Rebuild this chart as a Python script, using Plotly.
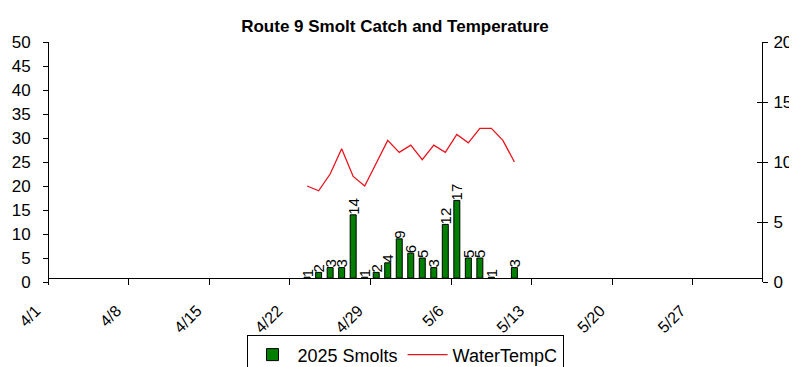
import plotly.graph_objects as go
import pandas as pd

# ---- data ----
dates = ["4/23", "4/24", "4/25", "4/26", "4/27", "4/28", "4/29", "4/30", "5/1", "5/2",
         "5/3", "5/4", "5/5", "5/6", "5/7", "5/8", "5/9", "5/10", "5/11"]
smolts = [1, 2, 3, 3, 14, 1, 2, 4, 9, 6, 5, 3, 12, 17, 5, 5, 1, None, 3]
water_temp = [8.0, 7.6, 9.0, 11.1, 8.8, 8.0, 9.9, 11.8, 10.8, 11.4,
              10.2, 11.4, 10.8, 12.3, 11.6, 12.8, 12.8, 11.8, 10.0]
tick_labels = ["4/1", "4/8", "4/15", "4/22", "4/29", "5/6", "5/13", "5/20", "5/27"]
year = 2025

# value at which the category axis crosses the primary value axis (bars grow from here)
AXIS_CROSS = 0.8

def to_dt(s):
    m, d = s.split("/")
    return pd.Timestamp(year=year, month=int(m), day=int(d))

# bars/points centred between tick marks (middle of each day)
x_mid = [to_dt(s) + pd.Timedelta(hours=12) for s in dates]
tick_vals = [to_dt(s) for s in tick_labels]
x_range = [to_dt("4/1"), to_dt("6/2")]

bar_len = [None if v is None else v - AXIS_CROSS for v in smolts]
bar_text = ["" if v is None else str(v) for v in smolts]

FONT = "Liberation Sans, Arial, sans-serif"

fig = go.Figure()
fig.add_trace(go.Bar(
    x=x_mid, y=bar_len, base=AXIS_CROSS, name="2025 Smolts",
    marker=dict(color="#007f00", line=dict(color="black", width=1)),
    width=0.52 * 86400000,
    text=bar_text,
    textposition="outside", textangle=-90, cliponaxis=False,
    constraintext="none",
    textfont=dict(family=FONT, size=15, color="black"),
    yaxis="y",
))
fig.add_trace(go.Scatter(
    x=x_mid, y=water_temp, name="WaterTempC", mode="lines",
    line=dict(color="#e8141c", width=1.3),
    yaxis="y2",
))
# invisible trace to carry the inner half of the right-axis ticks
fig.add_trace(go.Scatter(x=[x_mid[0]], y=[None], yaxis="y3", showlegend=False,
                         hoverinfo="skip"))

# page body has an 8px default margin, so the figure is sized to fit inside the window
fig.update_layout(
    width=789, height=359,
    margin=dict(l=40, r=35, t=34, b=85, autoexpand=False),
    paper_bgcolor="white", plot_bgcolor="white",
    font=dict(family=FONT, color="black"),
    title=dict(text="<b>Route 9 Smolt Catch and Temperature</b>",
               x=0.4905, xanchor="center", xref="container",
               y=0.951, yanchor="middle", yref="container",
               font=dict(family=FONT, size=17, color="black")),
    showlegend=True,
    legend=dict(orientation="h", x=0.5, xanchor="center", y=-0.2225, yanchor="top",
                bordercolor="black", borderwidth=1, bgcolor="white",
                font=dict(family=FONT, size=18, color="black"),
                itemwidth=40, tracegroupgap=0),
    xaxis=dict(
        type="date", range=x_range, tickvals=tick_vals, ticktext=tick_labels,
        tickangle=-45, ticks="outside", ticklen=6, tickcolor="black",
        showline=True, linecolor="black", linewidth=1,
        showgrid=False, zeroline=False, automargin=False,
        anchor="free", position=0.016,
        tickfont=dict(family=FONT, size=16, color="black"),
        ticklabelstandoff=10, ticklabelshift=-12,
    ),
    yaxis=dict(
        range=[0, 50], tickvals=list(range(0, 51, 5)),
        ticks="outside", ticklen=5, tickcolor="black",
        showline=True, linecolor="black", linewidth=1,
        showgrid=False, zeroline=False, automargin=False,
        anchor="free", position=0,
        tickfont=dict(family=FONT, size=17, color="black"),
        ticklabelstandoff=9,
    ),
    yaxis2=dict(
        range=[0, 20], tickvals=[0, 5, 10, 15, 20],
        overlaying="y", side="right", anchor="free", position=1,
        ticks="outside", ticklen=5, tickcolor="black",
        showline=True, linecolor="black", linewidth=1,
        showgrid=False, zeroline=False, automargin=False,
        tickfont=dict(family=FONT, size=17, color="black"),
        ticklabelstandoff=2,
    ),
    yaxis3=dict(
        range=[0, 20], tickvals=[0, 5, 10, 15, 20],
        overlaying="y", side="right", anchor="free", position=1,
        ticks="inside", ticklen=5, tickcolor="black",
        showticklabels=False, showline=False,
        showgrid=False, zeroline=False, automargin=False,
    ),
)

fig.write_html("out.html")
